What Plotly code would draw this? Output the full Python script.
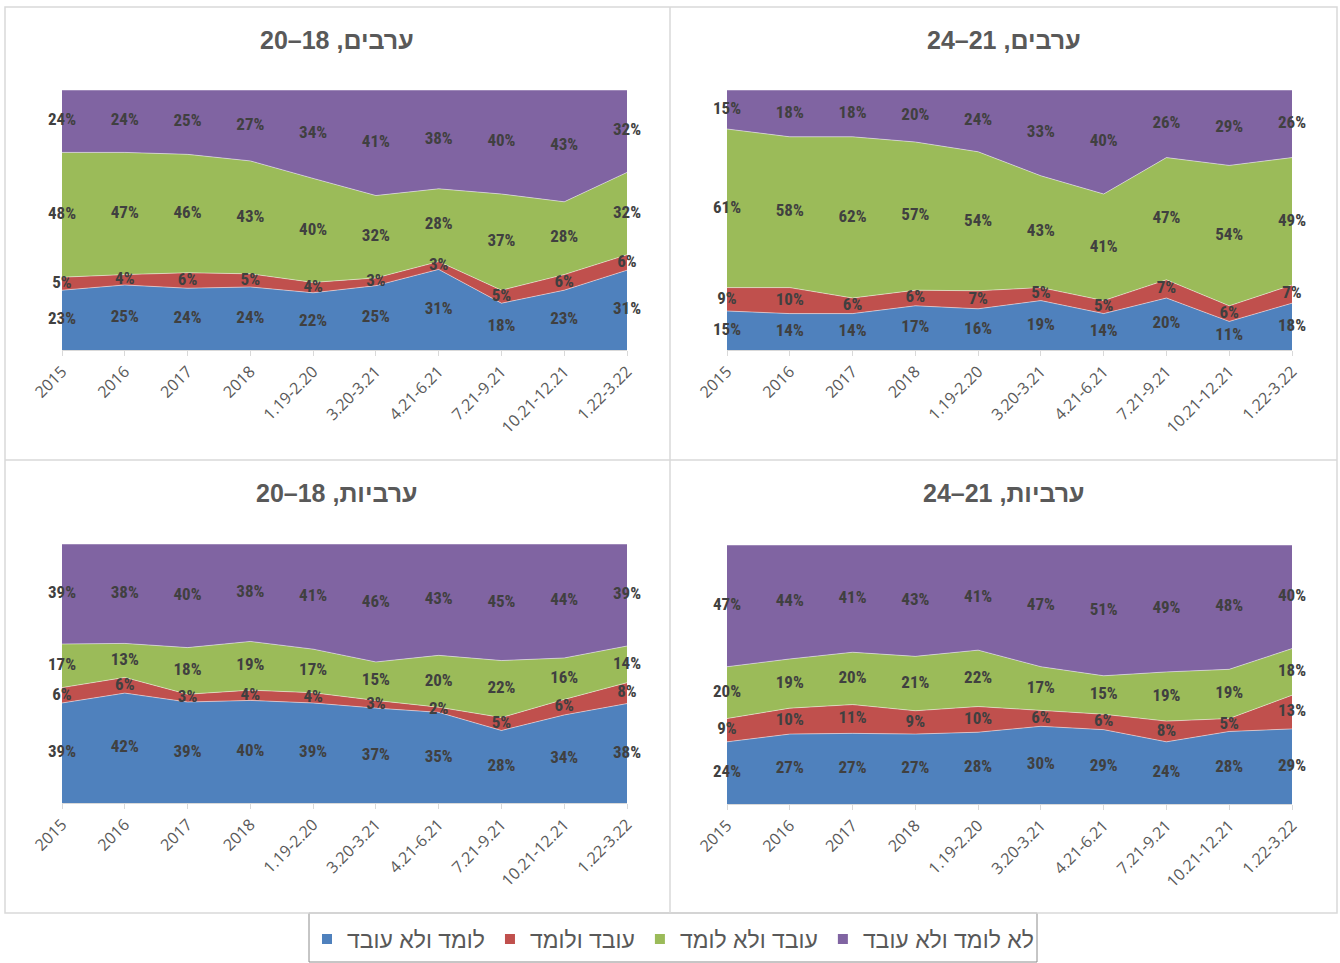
import plotly.graph_objects as go
from plotly.subplots import make_subplots

periods = ["2015", "2016", "2017", "2018", "1.19-2.20", "3.20-3.21",
           "4.21-6.21", "7.21-9.21", "10.21-12.21", "1.22-3.22"]

series_names = ["לומד ולא עובד", "עובד ולומד", "עובד ולא לומד", "לא לומד ולא עובד"]
colors = ["#4f81bd", "#c0504d", "#9bbb59", "#8064a2"]

panel_titles = ["ערבים, 18–20", "ערבים, 21–24", "ערביות, 18–20", "ערביות, 21–24"]

# ערבים 18-20
m1820_study = [23, 25, 24, 24, 22, 25, 31, 18, 23, 31]
m1820_both = [5, 4, 6, 5, 4, 3, 3, 5, 6, 6]
m1820_work = [48, 47, 46, 43, 40, 32, 28, 37, 28, 32]
m1820_none = [24, 24, 25, 27, 34, 41, 38, 40, 43, 32]

# ערבים 21-24
m2124_study = [15, 14, 14, 17, 16, 19, 14, 20, 11, 18]
m2124_both = [9, 10, 6, 6, 7, 5, 5, 7, 6, 7]
m2124_work = [61, 58, 62, 57, 54, 43, 41, 47, 54, 49]
m2124_none = [15, 18, 18, 20, 24, 33, 40, 26, 29, 26]

# ערביות 18-20
f1820_study = [39, 42, 39, 40, 39, 37, 35, 28, 34, 38]
f1820_both = [6, 6, 3, 4, 4, 3, 2, 5, 6, 8]
f1820_work = [17, 13, 18, 19, 17, 15, 20, 22, 16, 14]
f1820_none = [39, 38, 40, 38, 41, 46, 43, 45, 44, 39]

# ערביות 21-24
f2124_study = [24, 27, 27, 27, 28, 30, 29, 24, 28, 29]
f2124_both = [9, 10, 11, 9, 10, 6, 6, 8, 5, 13]
f2124_work = [20, 19, 20, 21, 22, 17, 15, 19, 19, 18]
f2124_none = [47, 44, 41, 43, 41, 47, 51, 49, 48, 40]

panels = [
    [m1820_study, m1820_both, m1820_work, m1820_none],
    [m2124_study, m2124_both, m2124_work, m2124_none],
    [f1820_study, f1820_both, f1820_work, f1820_none],
    [f2124_study, f2124_both, f2124_work, f2124_none],
]

W, H = 1340, 963


def px_x(v):
    return v / W


def px_y(v):
    return 1 - v / H


label_font = "Liberation Sans Narrow, Roboto Condensed, DejaVu Sans Condensed, sans-serif"

fig = make_subplots(rows=2, cols=2)

# plot area positions in pixels (left, right, top, bottom)
areas = [(62, 627, 90, 350), (727, 1292, 90, 350),
         (62, 627, 544, 803), (727, 1292, 545, 804)]

for i, series in enumerate(panels):
    row, col = i // 2 + 1, i % 2 + 1
    totals = [sum(v) for v in zip(*series)]
    cum = [0] * len(periods)
    for name, vals, color in zip(series_names, series, colors):
        fig.add_trace(go.Scatter(
            x=periods, y=vals, name=name, stackgroup="p%d" % i,
            groupnorm="percent", mode="lines",
            line=dict(width=0.8, color="rgba(255,255,255,0.6)"),
            fillcolor=color, showlegend=False, hoverinfo="skip"),
            row=row, col=col)
        # label sits in the middle of its band
        mids = []
        for k, v in enumerate(vals):
            mids.append((cum[k] + v / 2) / totals[k] * 100)
            cum[k] += v
        fig.add_trace(go.Scatter(
            x=periods, y=mids, mode="text",
            text=["%d%%" % v for v in vals],
            textposition="middle center",
            textfont=dict(family=label_font, size=17, color="#404040",
                          weight="bold"),
            cliponaxis=False, showlegend=False, hoverinfo="skip"),
            row=row, col=col)

    l, r, t, b = areas[i]
    fig.update_xaxes(domain=[px_x(l), px_x(r)], range=[0, len(periods) - 1],
                     type="category", tickangle=-45, ticks="outside",
                     ticklen=5, tickcolor="#d9d9d9", showline=True,
                     linecolor="#d9d9d9", showgrid=False, automargin=False,
                     tickfont=dict(family="Open Sans", size=16, color="#595959"),
                     row=row, col=col)
    fig.update_yaxes(domain=[px_y(b), px_y(t)], range=[0, 100],
                     visible=False, automargin=False, row=row, col=col)

    cx = (5 + 670) / 2 if col == 1 else (670 + 1337) / 2
    ty = 40 if row == 1 else 493
    fig.add_annotation(text=panel_titles[i], x=px_x(cx), y=px_y(ty),
                       xref="paper", yref="paper", showarrow=False,
                       xanchor="center", yanchor="middle",
                       font=dict(family="Liberation Sans", size=25,
                                 color="#595959", weight="bold"))

# legend-only entries
for name, color in zip(series_names, colors):
    fig.add_trace(go.Scatter(x=[None], y=[None], mode="markers", name=name,
                             marker=dict(symbol="square", size=10, color=color),
                             showlegend=True))

# panel frames and legend box
line_c = "#d9d9d9"
fig.add_shape(type="rect", xref="paper", yref="paper",
              x0=px_x(5), x1=px_x(1337), y0=px_y(913), y1=px_y(7),
              line=dict(color=line_c, width=1.5))
fig.add_shape(type="line", xref="paper", yref="paper",
              x0=px_x(670), x1=px_x(670), y0=px_y(913), y1=px_y(7),
              line=dict(color=line_c, width=1.5))
fig.add_shape(type="line", xref="paper", yref="paper",
              x0=px_x(5), x1=px_x(1337), y0=px_y(460), y1=px_y(460),
              line=dict(color=line_c, width=1.5))
fig.add_shape(type="rect", xref="paper", yref="paper",
              x0=px_x(309), x1=px_x(1037), y0=px_y(962), y1=px_y(913),
              line=dict(color="#8c8c8c", width=1), fillcolor="white",
              layer="below")

fig.update_layout(
    width=W, height=H,
    margin=dict(l=0, r=0, t=0, b=0, autoexpand=False),
    paper_bgcolor="white", plot_bgcolor="white",
    showlegend=True,
    legend=dict(orientation="h", traceorder="normal",
                x=px_x(673), xanchor="center",
                y=px_y(939), yanchor="middle",
                font=dict(family="Liberation Sans", size=23, color="#595959"),
                bgcolor="rgba(0,0,0,0)", itemclick=False),
)

fig.write_html("out.html", config={"displayModeBar": False},
               post_script="document.body.style.margin='0';")
